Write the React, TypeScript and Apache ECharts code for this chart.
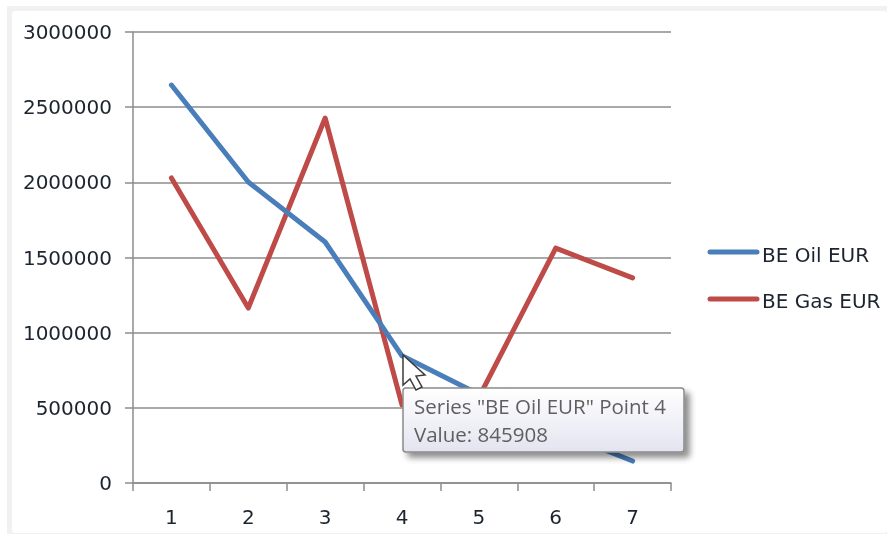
import React, { useEffect, useRef } from "react";
import * as echarts from "echarts";

const categories = ["1", "2", "3", "4", "5", "6", "7"];
const oilValues = [2647000, 2002000, 1603000, 845908, 590000, 350000, 146000];
const gasValues = [2029000, 1164000, 2428000, 520000, 570000, 1562000, 1365000];
const yTicks = { min: 0, max: 3000000, interval: 500000 };
const tooltipLines = ['Series "BE Oil EUR" Point 4', "Value: 845908"];
const seriesNames = ["BE Oil EUR", "BE Gas EUR"];
const font = "'DejaVu Sans', sans-serif";
const tipFont = "'Open Sans', sans-serif";
const axisGray = "#8c8c8c";
const textDark = "#1c2430";

export default function App() {
  const ref = useRef<HTMLDivElement>(null);
  useEffect(() => {
    document.body.style.margin = "0";
    const chart = echarts.init(ref.current!, null, { renderer: "svg" });
    chart.setOption({
      animation: false,
      backgroundColor: "#ffffff",
      textStyle: { fontFamily: font },
      grid: { left: 133, top: 32, width: 538, height: 451, containLabel: false },
      xAxis: {
        type: "category",
        data: categories,
        boundaryGap: true,
        axisLine: { lineStyle: { color: axisGray, width: 1.5 } },
        axisTick: { show: true, length: 8, alignWithLabel: false, lineStyle: { color: axisGray, width: 1.5 } },
        axisLabel: { color: textDark, fontSize: 20, margin: 24, fontFamily: font },
      },
      yAxis: {
        type: "value",
        ...yTicks,
        axisLine: { show: true, lineStyle: { color: axisGray, width: 1.5 } },
        axisTick: { show: true, length: 8, lineStyle: { color: axisGray, width: 1.5 } },
        axisLabel: {
          color: textDark,
          fontSize: 20,
          margin: 21,
          fontFamily: font,
          formatter: (v: number) => String(v),
        },
        splitLine: { show: true, lineStyle: { color: axisGray, width: 1.5 } },
      },
      series: [
        {
          name: seriesNames[0],
          type: "line",
          data: oilValues,
          showSymbol: false,
          lineStyle: { color: "#4a7ebb", width: 5, cap: "round", join: "round" },
          itemStyle: { color: "#4a7ebb" },
          z: 3,
        },
        {
          name: seriesNames[1],
          type: "line",
          data: gasValues,
          showSymbol: false,
          lineStyle: { color: "#be4b48", width: 5, cap: "round", join: "round" },
          itemStyle: { color: "#be4b48" },
          z: 2,
        },
      ],
      graphic: [
        { type: "rect", silent: true, z: -2,
          shape: { x: 7, y: 6, width: 880, height: 528 }, style: { fill: "#f1f1f1" } },
        { type: "rect", silent: true, z: -1,
          shape: { x: 12, y: 11, width: 875, height: 522, r: 3 }, style: { fill: "#ffffff" } },
        { type: "line", silent: true, z: 10, shape: { x1: 710, y1: 252, x2: 757, y2: 252 },
          style: { stroke: "#4a7ebb", lineWidth: 5, lineCap: "round" } },
        { type: "line", silent: true, z: 10, shape: { x1: 710, y1: 299, x2: 757, y2: 299 },
          style: { stroke: "#be4b48", lineWidth: 5, lineCap: "round" } },
        { type: "text", silent: true, z: 10, x: 762, y: 255,
          style: { text: seriesNames[0], fill: textDark, fontSize: 20, fontFamily: font, verticalAlign: "middle" } },
        { type: "text", silent: true, z: 10, x: 762, y: 301,
          style: { text: seriesNames[1], fill: textDark, fontSize: 20, fontFamily: font, verticalAlign: "middle" } },
        { type: "rect", silent: true, z: 21,
          shape: { x: 403, y: 388, width: 281, height: 64, r: 3 },
          style: {
            stroke: "#8a8a8a", lineWidth: 1.5,
            shadowBlur: 6, shadowOffsetX: 5, shadowOffsetY: 5, shadowColor: "rgba(0,0,0,0.45)",
            fill: new echarts.graphic.LinearGradient(0, 0, 0, 1, [
              { offset: 0, color: "#ffffff" },
              { offset: 1, color: "#e3e4f0" },
            ]),
          } },
        { type: "text", silent: true, z: 22, x: 414, y: 406,
          style: { text: tooltipLines[0], fill: "#5f5f5f", fontSize: 20.5, fontFamily: tipFont, verticalAlign: "middle" } },
        { type: "text", silent: true, z: 22, x: 414, y: 434,
          style: { text: tooltipLines[1], fill: "#5f5f5f", fontSize: 20.5, fontFamily: tipFont, verticalAlign: "middle" } },
        { type: "polygon", silent: true, z: 23,
          shape: { points: [[403, 355], [403, 385], [410, 379], [416, 390], [422, 387], [416, 376], [425, 375]] },
          style: { fill: "#ffffff", stroke: "#3c3c3c", lineWidth: 1.5 } },
      ],
    });
    return () => chart.dispose();
  }, []);
  return <div ref={ref} style={{ width: 887, height: 534, filter: "blur(0.5px)" }} />;
}
